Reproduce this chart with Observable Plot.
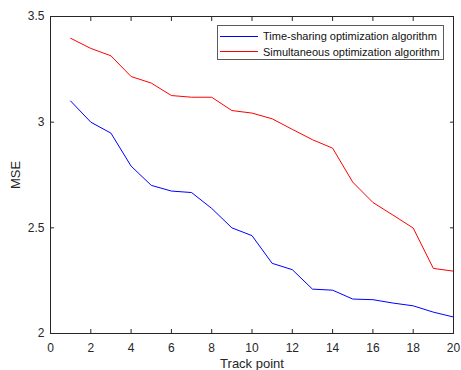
<!DOCTYPE html>
<html>
<head>
<meta charset="utf-8">
<script src="https://cdn.jsdelivr.net/npm/d3@7"></script>
<script src="https://cdn.jsdelivr.net/npm/@observablehq/plot@0.6"></script>
<style>
  html, body { margin: 0; padding: 0; background: #fff; }
  #wrap { position: relative; width: 461px; height: 370px; font-family: Arial, "Liberation Sans", Helvetica, sans-serif; }
  #legend { position: absolute; left: 217px; top: 25px; width: 227px; height: 35px; border: 1px solid #5a5a5a; background: #fff; box-sizing: border-box; font-size: 11px; color: #111; }
  .row { position: absolute; left: 2px; height: 14px; display: flex; align-items: center; }
  .row .sw { width: 38px; height: 0; border-top: 1px solid; margin-right: 5px; }
</style>
</head>
<body>
<div id="wrap"></div>
<script>
const trackPoints = [1,2,3,4,5,6,7,8,9,10,11,12,13,14,15,16,17,18,19,20];
const timeSharing = [3.10,3.00,2.948,2.792,2.701,2.674,2.667,2.592,2.500,2.463,2.332,2.302,2.210,2.205,2.163,2.160,2.144,2.131,2.101,2.078];
const simultaneous = [3.397,3.349,3.314,3.216,3.185,3.126,3.118,3.118,3.055,3.043,3.016,2.966,2.917,2.877,2.716,2.620,2.560,2.499,2.308,2.295];
const seriesNames = ["Time-sharing optimization algorithm", "Simultaneous optimization algorithm"];
const seriesColors = ["#0000ff", "#ff0000"];
const xTicks = [0,2,4,6,8,10,12,14,16,18,20];
const yTicks = [2,2.5,3,3.5];
const yTickLabels = ["2","2.5","3","3.5"];

const rows = [];
trackPoints.forEach((t, i) => {
  rows.push({series: seriesNames[0], x: t, y: timeSharing[i]});
  rows.push({series: seriesNames[1], x: t, y: simultaneous[i]});
});

const axisColor = "#262626";
const chart = Plot.plot({
  width: 461, height: 370,
  marginLeft: 50, marginRight: 8, marginTop: 16, marginBottom: 37,
  x: {domain: [0, 20]},
  y: {domain: [2, 3.5]},
  color: {domain: seriesNames, range: seriesColors},
  style: {fontFamily: 'Arial, "Liberation Sans", Helvetica, sans-serif', fontSize: "12px", color: axisColor, background: "#fff"},
  marks: [
    Plot.line(rows, {x: "x", y: "y", z: "series", stroke: "series", strokeWidth: 1}),
    Plot.frame({stroke: axisColor, strokeWidth: 1}),
    Plot.axisX({anchor: "bottom", ticks: xTicks, tickSize: -4, tickPadding: 14, tickFormat: d => String(d), label: null, fontSize: 12}),
    Plot.axisX({anchor: "bottom", ticks: [], label: "Track point", labelAnchor: "center", labelOffset: 34, labelArrow: false, fontSize: 13}),
    Plot.axisX({anchor: "top", ticks: xTicks, tickSize: -4, tickFormat: () => "", label: null}),
    Plot.axisY({anchor: "left", ticks: yTicks, tickSize: -4, tickPadding: 10, tickFormat: d => yTickLabels[yTicks.indexOf(d)], label: null, fontSize: 12}),
    Plot.axisY({anchor: "left", ticks: [], label: "MSE", labelAnchor: "center", labelOffset: 40, labelArrow: false, fontSize: 13}),
    Plot.axisY({anchor: "right", ticks: yTicks, tickSize: -4, tickFormat: () => "", label: null})
  ]
});
const wrap = document.getElementById("wrap");
wrap.appendChild(chart);

const legend = document.createElement("div");
legend.id = "legend";
seriesNames.forEach((name, i) => {
  const r = document.createElement("div");
  r.className = "row";
  r.style.top = (3 + i * 15.5) + "px";
  const sw = document.createElement("span");
  sw.className = "sw";
  sw.style.borderTopColor = seriesColors[i];
  const tx = document.createElement("span");
  tx.textContent = name;
  r.appendChild(sw); r.appendChild(tx);
  legend.appendChild(r);
});
wrap.appendChild(legend);
</script>
</body>
</html>
